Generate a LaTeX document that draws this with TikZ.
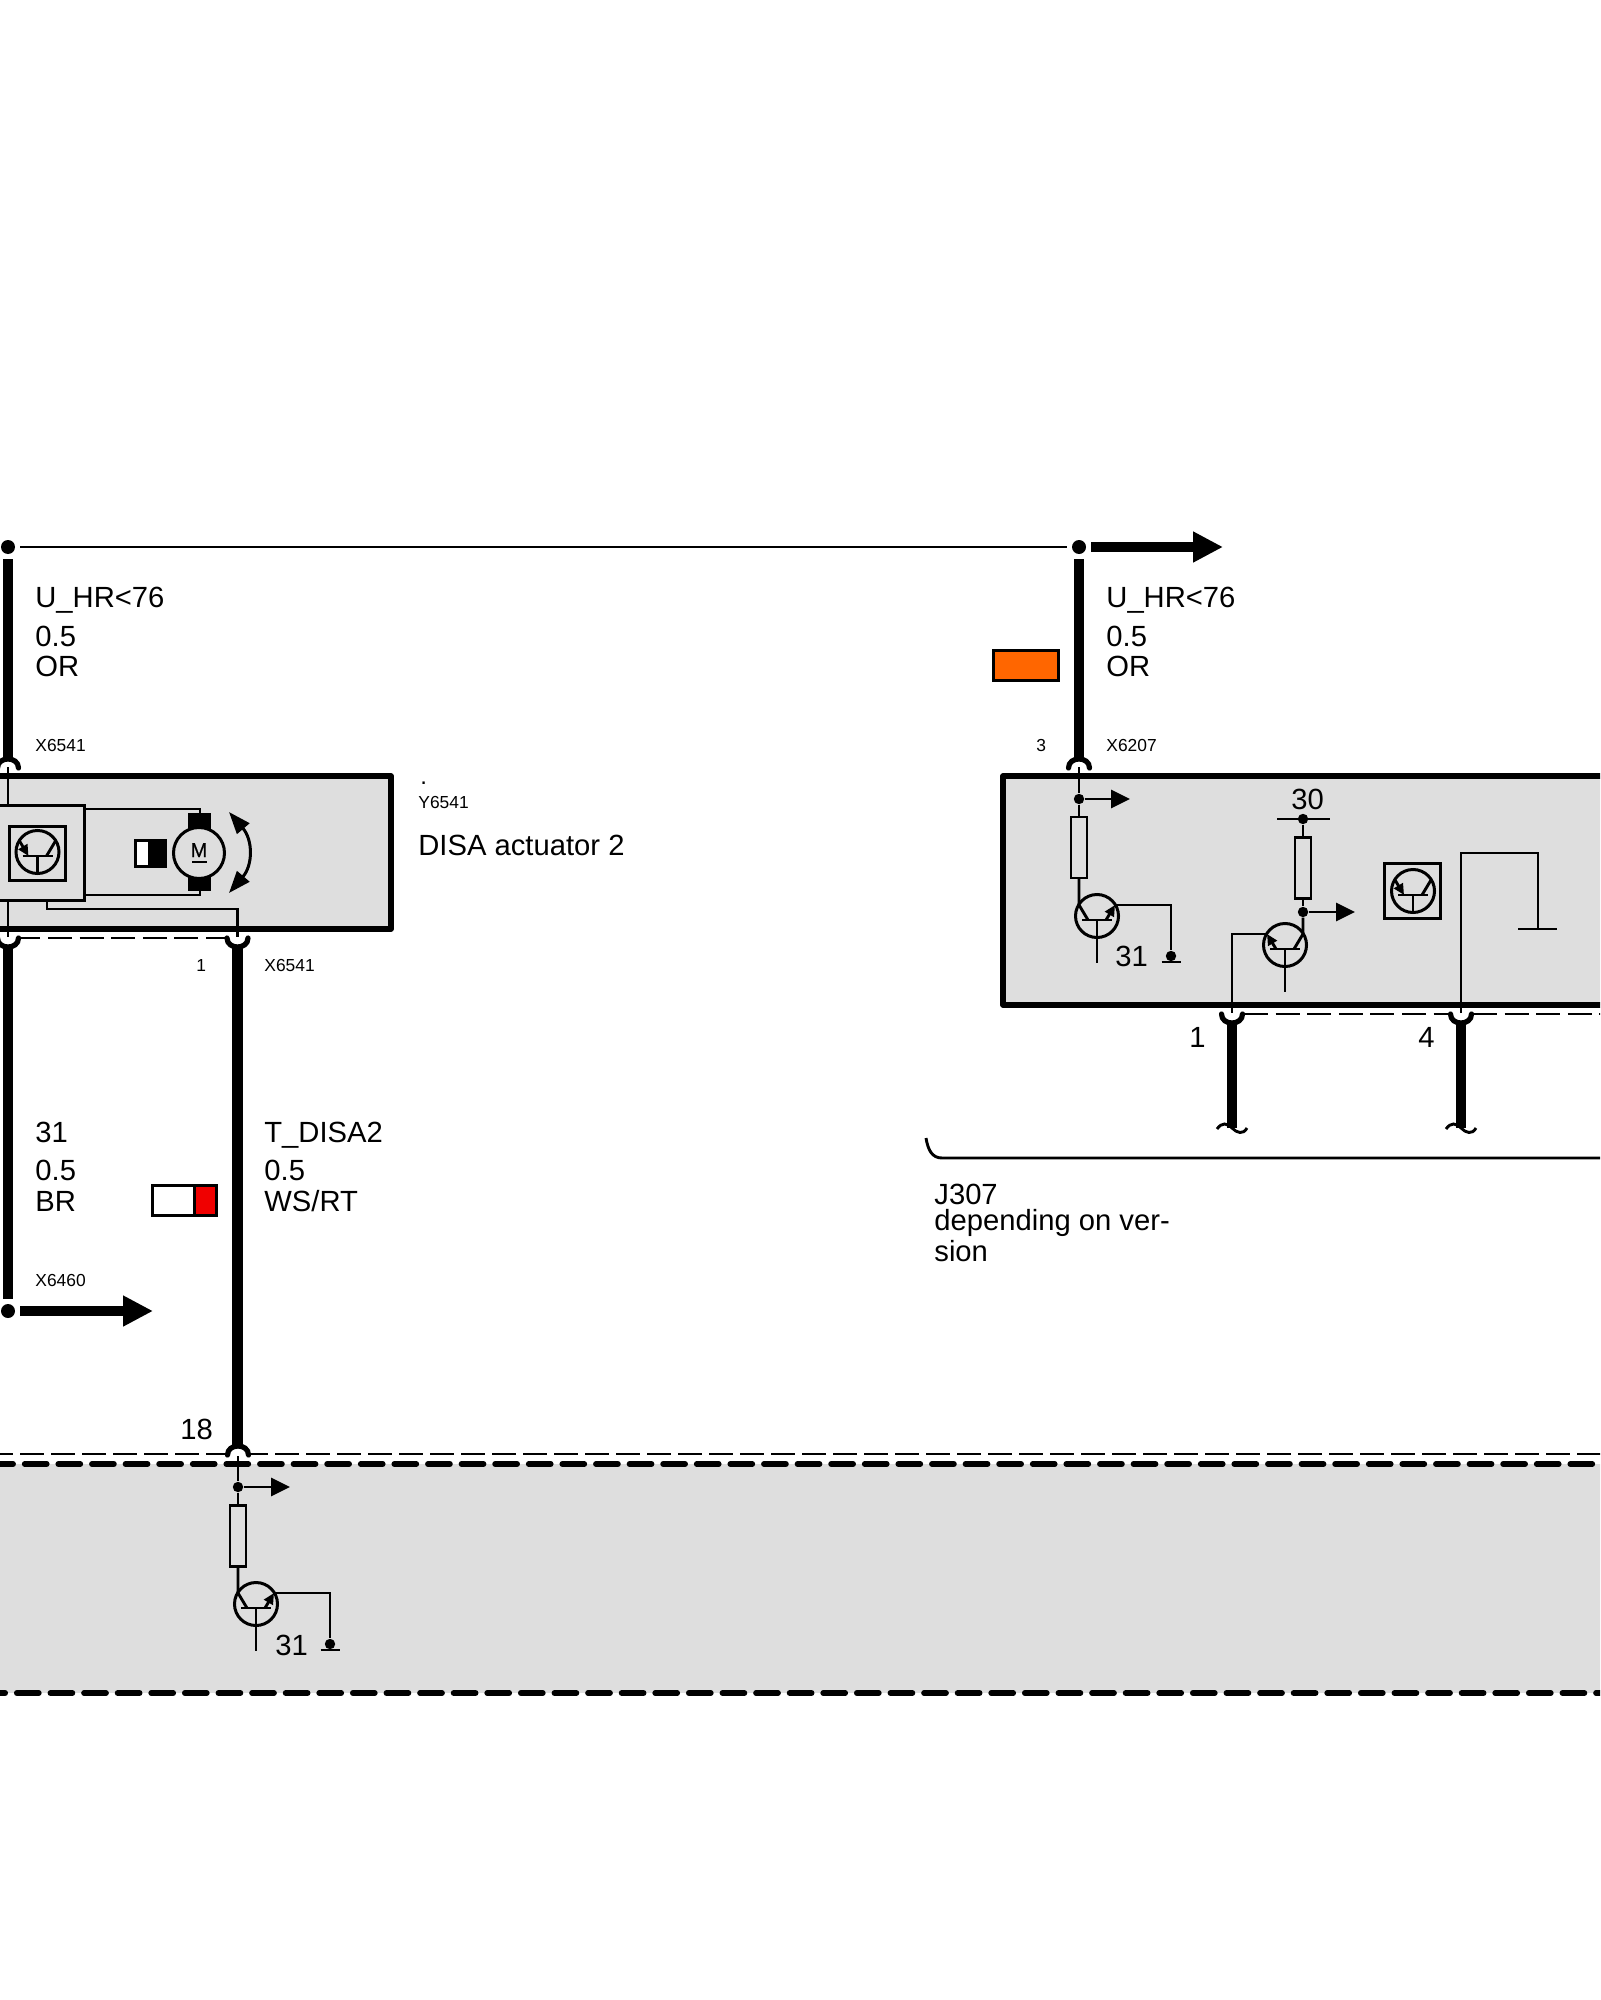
\documentclass[tikz,border=0pt]{standalone}
\usepackage{fontspec}
\setmainfont{Liberation Sans}
\usetikzlibrary{arrows.meta, positioning, calc}
\definecolor{unitgray}{RGB}{222,222,222}
\definecolor{wireorange}{RGB}{255,102,0}
\definecolor{wirered}{RGB}{240,0,0}

\begin{document}
\begin{tikzpicture}[
                x=0.5pt, y=-0.5pt,
                wirethin/.style={draw=black, line width=1.45pt},
                wirethick/.style={draw=black, line width=5.4pt},
                flowarrow/.style={draw=black, line width=5pt, -{Stealth[inset=0pt, length=15pt, width=14.5pt]}},
                tapthin/.style={wirethin, -{Stealth[inset=0pt, length=9.5pt, width=9pt]}},
                emitterarrow/.style={wirethin, -{Stealth[inset=0pt, length=5.5pt, width=5pt]}},
                unitbox/.style={draw=black, fill=unitgray, line width=2.75pt, line join=round},
                subbox/.style={draw=black, fill=unitgray, line width=1.5pt},
                frameline/.style={draw=black, line width=2.85pt, line cap=round, dash pattern=on 11pt off 5.8pt},
                splitline/.style={draw=black, line width=1.35pt, dash pattern=on 12pt off 3.5pt},
                swatch/.style={draw=black, line width=1.5pt},
                endpoint/.style={circle, fill=black, inner sep=0pt, minimum size=7pt, outer sep=2.5pt},
                junction/.style={circle, fill=black, inner sep=0pt, minimum size=5.2pt},
                resistor/.style={rectangle, draw=black, line width=1.45pt, inner sep=0pt, outer sep=0pt, minimum width=8pt, minimum height=30.5pt},
                wirelabel/.style={anchor=base west, inner sep=0pt, font=\fontsize{14.6}{16}\selectfont},
                pinlabel/.style={anchor=base west, inner sep=0pt, font=\fontsize{8.7}{10}\selectfont},
                plug/.pic={\draw[line width=2.6pt, line cap=round] (-10.5,0) .. controls (-10.5,-12) and (10.5,-12) .. (10.5,0);},
                wirebreak/.pic={\draw[line width=1.45pt] (-15,1) .. controls (-10,-6) and (-5,-5) .. (0,0) .. controls (5,5) and (11,7) .. (15,0);},
                earth/.pic={\node[junction] (-dot) at (0,0) {}; \draw[wirethin] (-9.5,6) -- (9.5,6);},
                transistor/.pic={
                    \draw[wirethin, line width=1.5pt] (0,0) circle[radius=21.5];
                    \draw[wirethin] (-15,4) -- (15,4);
                    \coordinate (-nw) at (-18,-11);
                    \coordinate (-ne) at (18,-11);
                    \coordinate (-sw) at (-9,4);
                    \coordinate (-se) at (9,4);
                    \coordinate (-bar) at (0,4);
                    \coordinate (-rim) at (0,21.5);
                    \coordinate (-foot) at (0,47);
                }
            ]
                \useasboundingbox (0,0) rectangle (1600,2000);
                \clip (0,0) rectangle (1600,2000);

                \draw[unitbox] (-20,776) rectangle (391,929);
                \draw[unitbox] (1003,776) rectangle (1620,1005);
                \fill[unitgray] (-5,1464) rectangle (1605,1693);
                \draw[frameline] (-42.5,1464) -- (1620,1464);
                \draw[frameline] (-50.4,1693) -- (1620,1693);

                \node[endpoint] (dotA) at (8,547) {};
                \node[endpoint] (dotB) at (1079,547) {};
                \node[endpoint] (dotC) at (8,1311) {};
                \coordinate (arrowB) at (1223,547);
                \coordinate (arrowC) at (153,1311);
                \coordinate (plugA) at (8,760);
                \coordinate (plugB) at (1079,760);
                \coordinate (plugC) at (8,946);
                \coordinate (plugD) at (237.5,946);
                \coordinate (plugE) at (237.5,1448);
                \coordinate (plugF) at (1232,1024);
                \coordinate (plugG) at (1461,1024);
                \coordinate (cutF) at (1232,1128);
                \coordinate (cutG) at (1461,1128);

                \draw[wirethin] (dotA) -- (dotB);
                \draw[flowarrow] (dotB) -- (arrowB);
                \draw[flowarrow] (dotC) -- (arrowC);
                \draw[wirethick] (dotA) -- (plugA);
                \draw[wirethick] (dotB) -- (plugB);
                \draw[wirethick] (plugC) -- (dotC);
                \draw[wirethick] (plugD) -- (plugE);
                \draw[wirethick] (plugF) -- (cutF);
                \draw[wirethick] (plugG) -- (cutG);

                \pic at (8,768) {plug};
                \pic at (1079,768) {plug};
                \pic[yscale=-1] at (8,938) {plug};
                \pic[yscale=-1] at (237.5,938) {plug};
                \pic at (238,1455) {plug};
                \pic[yscale=-1] at (1232,1014) {plug};
                \pic[yscale=-1] at (1461,1014) {plug};
                \pic at (cutF) {wirebreak};
                \pic at (cutG) {wirebreak};

                \draw[splitline, dash pattern=on 12pt off 3.8pt, dash phase=1.3pt] (19,938) -- (227,938);
                \draw[splitline, dash pattern=on 12pt off 3.8pt] (1244,1014) -- (1450,1014);
                \draw[splitline, dash pattern=on 12pt off 3.8pt] (1473,1014) -- (1605,1014);
                \draw[splitline] (-42,1454) -- (228,1454);
                \draw[splitline, dash phase=2pt] (248,1454) -- (1605,1454);

                \draw[subbox] (-20,805) rectangle (84,900);
                \draw[subbox, fill=none] (9,826) rectangle (65,880);
                \pic (tD) at (37.5,852) {transistor};
                \draw[emitterarrow] (tD-nw) -- (tD-sw);
                \draw[wirethin] (tD-ne) -- (tD-se);
                \draw[wirethin] (tD-bar) -- (tD-rim);
                \coordinate (pinA) at (8,767);
                \coordinate (pinAin) at (8,805);
                \coordinate (pinC) at (8,937);
                \coordinate (pinCin) at (8,900);
                \draw[wirethin] (pinA) -- (pinAin);
                \draw[wirethin] (pinCin) -- (pinC);

                \node[circle, draw=black, line width=1.5pt, inner sep=0pt, minimum size=25.5pt] (motor) at (199,853) {};
                \fill (188,813) rectangle (211,829);
                \fill (188,877) rectangle (211,891);
                \node[inner sep=0pt, anchor=base, font=\fontsize{10}{12}\selectfont\addfontfeature{FakeBold=0.6}] (motorM) at (199,857) {M};
                \draw[line width=1.1pt] (192,862) -- (207,862);
                \draw[swatch, fill=white] (135,840) rectangle (165,866);
                \fill (148,840) rectangle (165,866);
                \coordinate (coilT) at (84,809);
                \coordinate (coilTb) at (200,814);
                \coordinate (coilB) at (84,895);
                \coordinate (coilBb) at (200,890);
                \coordinate (feedA) at (47,900);
                \coordinate (feedB) at (237.5,937);
                \draw[wirethin] (coilT) -| (coilTb);
                \draw[wirethin] (coilB) -| (coilBb);
                \draw[wirethin] (feedA) |- (237.5,909) -- (feedB);
                \draw[line width=1.5pt, {Stealth[inset=0pt, length=11pt, width=8pt]}-{Stealth[inset=0pt, length=11pt, width=8pt]}] (229,812) .. controls (253,840) and (253,865) .. (229,893);

                \coordinate (pinB) at (1079,767);
                \node[junction] (tapA) at (1079,799) {};
                \coordinate (tapAend) at (1130,799);
                \node[resistor] (resA) at (1079,847.5) {};
                \pic (tA) at (1097,916) {transistor};
                \pic (gndA) at (1171,956) {earth};
                \draw[wirethin] (pinB) -- (tapA);
                \draw[tapthin] (tapA) -- (tapAend);
                \draw[wirethin] (tapA) -- (resA);
                \draw[wirethin] (resA) -- (tA-nw) -- (tA-sw);
                \draw[emitterarrow] (tA-se) -- (tA-ne);
                \draw[wirethin] (tA-ne) -| (gndA-dot);
                \draw[wirethin] (tA-bar) -- (tA-foot);

                \coordinate (railL) at (1277,819);
                \coordinate (railR) at (1330,819);
                \node[junction] (raildot) at (1303,819) {};
                \node[resistor] (resB) at (1303,868) {};
                \node[junction] (tapB) at (1303,912) {};
                \coordinate (tapBend) at (1355,912);
                \pic (tB) at (1285,945) {transistor};
                \coordinate (pinF) at (1232,1013);
                \draw[wirethin] (railL) -- (railR);
                \draw[wirethin] (raildot) -- (resB);
                \draw[wirethin] (resB) -- (tapB);
                \draw[tapthin] (tapB) -- (tapBend);
                \draw[wirethin] (tapB) -- (tB-ne) -- (tB-se);
                \draw[emitterarrow] (tB-sw) -- (tB-nw);
                \draw[wirethin] (tB-nw) -| (pinF);
                \draw[wirethin] (tB-bar) -- (tB-foot);

                \draw[swatch] (1384,863) rectangle (1440,918);
                \pic (tC) at (1413,891) {transistor};
                \draw[emitterarrow] (tC-nw) -- (tC-sw);
                \draw[wirethin] (tC-ne) -- (tC-se);
                \draw[wirethin] (tC-bar) -- (tC-rim);

                \coordinate (pinG) at (1461,1013);
                \coordinate (gndBtop) at (1538,853);
                \coordinate (gndB) at (1538,929);
                \coordinate (gndBl) at (1518,929);
                \coordinate (gndBr) at (1557,929);
                \draw[wirethin] (pinG) |- (gndBtop) -- (gndB);
                \draw[wirethin] (gndBl) -- (gndBr);

                \coordinate (pinE) at (238,1456);
                \node[junction] (tapC) at (238,1487) {};
                \coordinate (tapCend) at (290,1487);
                \node[resistor] (resC) at (238,1536) {};
                \pic (tE) at (256,1604) {transistor};
                \pic (gndC) at (330,1644) {earth};
                \draw[wirethin] (pinE) -- (tapC);
                \draw[tapthin] (tapC) -- (tapCend);
                \draw[wirethin] (tapC) -- (resC);
                \draw[wirethin] (resC) -- (tE-nw) -- (tE-sw);
                \draw[emitterarrow] (tE-se) -- (tE-ne);
                \draw[wirethin] (tE-ne) -| (gndC-dot);
                \draw[wirethin] (tE-bar) -- (tE-foot);

                \draw[swatch, fill=wireorange] (993,650) rectangle (1058,680.5);
                \draw[swatch, fill=white] (152,1185) rectangle (194,1215.5);
                \draw[swatch, fill=wirered] (194,1185) rectangle (216.5,1215.5);

                \coordinate (braceA) at (926,1138);
                \coordinate (braceB) at (942,1158);
                \coordinate (braceC) at (1605,1158);
                \draw[wirethin] (braceA) .. controls (928,1150) and (932,1158) .. (braceB) -- (braceC);

                \node[wirelabel] (nameA) at (35,607) {U\_HR<76};
                \node[wirelabel] (sizeA) at (35,646) {0.5};
                \node[wirelabel] (colorA) at (35,676) {OR};
                \node[pinlabel] (connA) at (35,751) {X6541};
                \node[wirelabel] (nameB) at (1106,607) {U\_HR<76};
                \node[wirelabel] (sizeB) at (1106,646) {0.5};
                \node[wirelabel] (colorB) at (1106,676) {OR};
                \node[pinlabel] (connB) at (1106,751) {X6207};
                \node[pinlabel] (pinThree) at (1036,751) {3};
                \node[pinlabel, font=\fontsize{12}{14}\selectfont] (dotY) at (420,784) {.};
                \node[pinlabel] (connY) at (418,808) {Y6541};
                \node[wirelabel] (actuator) at (418,855) {DISA actuator 2};
                \node[pinlabel] (pinOne) at (196,971) {1};
                \node[pinlabel] (connD) at (264,971) {X6541};
                \node[wirelabel] (nameC) at (35,1142) {31};
                \node[wirelabel] (sizeC) at (35,1180) {0.5};
                \node[wirelabel] (colorC) at (35,1211) {BR};
                \node[pinlabel] (connC) at (35,1286) {X6460};
                \node[wirelabel] (nameD) at (264,1142) {T\_DISA2};
                \node[wirelabel] (sizeD) at (264,1180) {0.5};
                \node[wirelabel] (colorD) at (264,1211) {WS/RT};
                \node[wirelabel] (pinEighteen) at (180,1439) {18};
                \node[wirelabel] (groundE) at (275,1655) {31};
                \node[wirelabel] (groundA) at (1115,966) {31};
                \node[wirelabel] (supplyB) at (1291,809) {30};
                \node[wirelabel] (pinFone) at (1189,1047) {1};
                \node[wirelabel] (pinFour) at (1418,1047) {4};
                \node[wirelabel] (unitJ) at (934,1204) {J307};
                \node[wirelabel] (noteA) at (934,1230) {depending on ver-};
                \node[wirelabel] (noteB) at (934,1261) {sion};
            \end{tikzpicture}
\end{document}
